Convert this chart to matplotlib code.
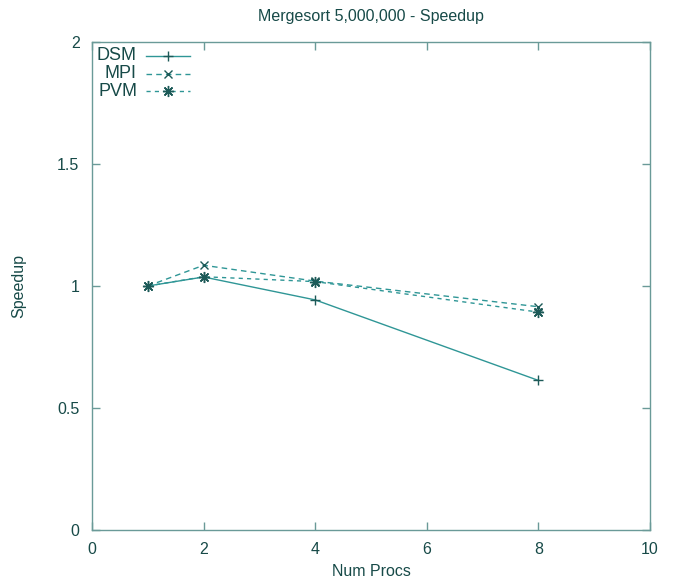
import matplotlib
matplotlib.use("Agg")
import matplotlib.pyplot as plt
from matplotlib.lines import Line2D

plt.rcParams['font.family'] = ['Liberation Sans', 'DejaVu Sans']

procs = [1, 2, 4, 8]
dsm = [1.0, 1.037, 0.943, 0.613]
mpi = [1.0, 1.085, 1.02, 0.915]
pvm = [1.0, 1.038, 1.018, 0.893]
series_names = ["DSM", "MPI", "PVM"]
xticks = [0, 2, 4, 6, 8, 10]
yticks = [0, 0.5, 1, 1.5, 2]
ytick_labels = ["0", "0.5", "1", "1.5", "2"]

line_col = '#2f9696'
text_col = '#174a48'
frame_col = '#6a9a98'

fig = plt.figure(figsize=(6.74, 5.8), dpi=100)
ax = fig.add_axes([92/674, 1-530/580, (650-92)/674, (530-42)/580])

styles = [
    dict(ls='-', marker='+', ms=7),
    dict(ls=(0, (4, 3)), marker='x', ms=6),
    dict(ls=(0, (3, 3)), marker=(8, 2, 0), ms=8),
]
for vals, st in zip([dsm, mpi, pvm], styles):
    ax.plot(procs, vals, color=line_col, lw=1.0, mew=1.0, mec='#1d5a58', **st)

ax.set_xlim(0, 10)
ax.set_ylim(0, 2)
ax.set_xticks(xticks)
ax.set_yticks(yticks)
ax.set_yticklabels(ytick_labels)
ax.tick_params(direction='in', length=6, width=1, color=frame_col,
               top=True, right=True, labelsize=11.5, labelcolor=text_col, pad=9)
for s in ax.spines.values():
    s.set_color(frame_col)
    s.set_linewidth(1.0)

ax.set_title("Mergesort 5,000,000 - Speedup", fontsize=11.5, color=text_col, pad=15)
ax.set_xlabel("Num Procs", fontsize=11.5, color=text_col, labelpad=5)
ax.set_ylabel("Speedup", fontsize=11.5, color=text_col, labelpad=22)

# gnuplot-style legend: right-aligned labels, sample line to the right
ys = [56, 74, 91]
for name, st, yp in zip(series_names, styles, ys):
    yf = 1 - yp / 580
    fig.text(137/674, yf, name, ha='right', va='center', fontsize=13, color=text_col)
    fig.add_artist(Line2D([146/674, 190/674], [yf, yf], color=line_col, lw=1.0,
                          ls=st['ls'], transform=fig.transFigure))
    fig.add_artist(Line2D([168/674], [yf], color=line_col, lw=0, marker=st['marker'],
                          ms=st['ms'], mew=1.0, mec='#1d5a58', transform=fig.transFigure))

fig.savefig("out.png", dpi=100)
